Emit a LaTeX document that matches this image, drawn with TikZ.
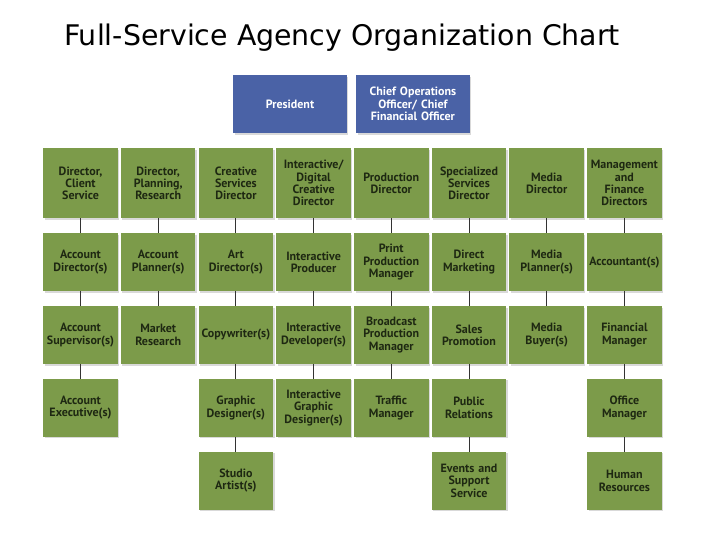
\documentclass[tikz,border=0pt]{standalone}
\usepackage{fontspec}
\usepackage{xcolor}
\usepackage{tikz}
\usetikzlibrary{positioning,shadows}
\newfontfamily\boxfont{PT Sans}[BoldFont={PT Sans Bold}]
\newfontfamily\titlefont{DejaVu Sans}
\definecolor{agreen}{RGB}{124,155,74}
\definecolor{ablue}{RGB}{74,98,166}
\definecolor{atext}{RGB}{30,40,18}

\begin{document}
\begin{tikzpicture}[
    x=1pt, y=1pt,
    node distance=14.5pt and 2.8pt,
    unit/.style={
      rectangle, fill=agreen, draw=none,
      text=atext, align=center,
      font=\boxfont\bfseries\fontsize{12}{12.3}\selectfont,
      text width=74pt, inner sep=0.25pt,
      minimum width=74.5pt, minimum height=58pt,
      drop shadow={shadow xshift=1.5pt, shadow yshift=-1.5pt, opacity=0.25, fill=black!60},
    },
    headunit/.style={unit, minimum height=70pt},
    topunit/.style={
      unit, fill=ablue, text=white,
      text width=110pt, minimum width=113.5pt,
    },
    link/.style={draw=black!80, line width=1pt},
  ]

  \useasboundingbox (0,0) rectangle (728,-546);

  % Title
  \node[anchor=base west, inner sep=0pt, font=\titlefont\fontsize{28.4}{32}\selectfont]
    (title) at (64,-45) {Full-Service Agency Organization Chart};

  % Top: executives
  \node[topunit] (pres) at (290,-104) {President};
  \node[topunit, right=9pt of pres] (coo) {Chief Operations\\Officer/ Chief\\Financial Officer};

  % Row 1: directors
  \node[headunit] (dclient) at (80.5,-183.2) {Director,\\Client\\Service};
  \node[headunit, right=of dclient] (dplan) {Director,\\Planning,\\Research};
  \node[headunit, right=of dplan] (dcreative) {Creative\\Services\\Director};
  \node[headunit, right=of dcreative] (dinter) {Interactive/\\Digital\\Creative\\Director};
  \node[headunit, right=of dinter] (dprod) {Production\\Director};
  \node[headunit, right=of dprod] (dspec) {Specialized\\Services\\Director};
  \node[headunit, right=of dspec] (dmedia) {Media\\Director};
  \node[headunit, right=of dmedia] (dmgmt) {Management\\and\\Finance\\Directors};

  % Row 2
  \node[unit, below=of dclient] (acctdir) {Account\\Director(s)};
  \node[unit, below=of dplan] (acctplan) {Account\\Planner(s)};
  \node[unit, below=of dcreative] (artdir) {Art\\Director(s)};
  \node[unit, below=of dinter] (iprod) {Interactive\\Producer};
  \node[unit, below=of dprod] (printmgr) {Print\\Production\\Manager};
  \node[unit, below=of dspec] (direct) {Direct\\Marketing};
  \node[unit, below=of dmedia] (mplan) {Media\\Planner(s)};
  \node[unit, below=of dmgmt] (acctant) {Accountant(s)};

  % Row 3
  \node[unit, below=of acctdir] (acctsup) {Account\\Supervisor(s)};
  \node[unit, below=of acctplan] (market) {Market\\Research};
  \node[unit, below=of artdir] (copy) {Copywriter(s)};
  \node[unit, below=of iprod] (idev) {Interactive\\Developer(s)};
  \node[unit, below=of printmgr] (bcast) {Broadcast\\Production\\Manager};
  \node[unit, below=of direct] (sales) {Sales\\Promotion};
  \node[unit, below=of mplan] (mbuy) {Media\\Buyer(s)};
  \node[unit, below=of acctant] (finmgr) {Financial\\Manager};

  % Row 4
  \node[unit, below=of acctsup] (acctexec) {Account\\Executive(s)};
  \node[unit, below=of copy] (graphic) {Graphic\\Designer(s)};
  \node[unit, below=of idev] (igraphic) {Interactive\\Graphic\\Designer(s)};
  \node[unit, below=of bcast] (traffic) {Traffic\\Manager};
  \node[unit, below=of sales] (pr) {Public\\Relations};
  \node[unit, below=of finmgr] (office) {Office\\Manager};

  % Row 5
  \node[unit, below=of graphic] (studio) {Studio\\Artist(s)};
  \node[unit, below=of pr] (events) {Events and\\Support\\Service};
  \node[unit, below=of office] (hr) {Human\\Resources};

  % Column links
  \draw[link] (dclient) -- (acctdir);
  \draw[link] (acctdir) -- (acctsup);
  \draw[link] (acctsup) -- (acctexec);
  \draw[link] (dplan) -- (acctplan);
  \draw[link] (acctplan) -- (market);
  \draw[link] (dcreative) -- (artdir);
  \draw[link] (artdir) -- (copy);
  \draw[link] (copy) -- (graphic);
  \draw[link] (graphic) -- (studio);
  \draw[link] (dinter) -- (iprod);
  \draw[link] (iprod) -- (idev);
  \draw[link] (idev) -- (igraphic);
  \draw[link] (dprod) -- (printmgr);
  \draw[link] (printmgr) -- (bcast);
  \draw[link] (bcast) -- (traffic);
  \draw[link] (dspec) -- (direct);
  \draw[link] (direct) -- (sales);
  \draw[link] (sales) -- (pr);
  \draw[link] (pr) -- (events);
  \draw[link] (dmedia) -- (mplan);
  \draw[link] (mplan) -- (mbuy);
  \draw[link] (dmgmt) -- (acctant);
  \draw[link] (acctant) -- (finmgr);
  \draw[link] (finmgr) -- (office);
  \draw[link] (office) -- (hr);

\end{tikzpicture}
\end{document}
